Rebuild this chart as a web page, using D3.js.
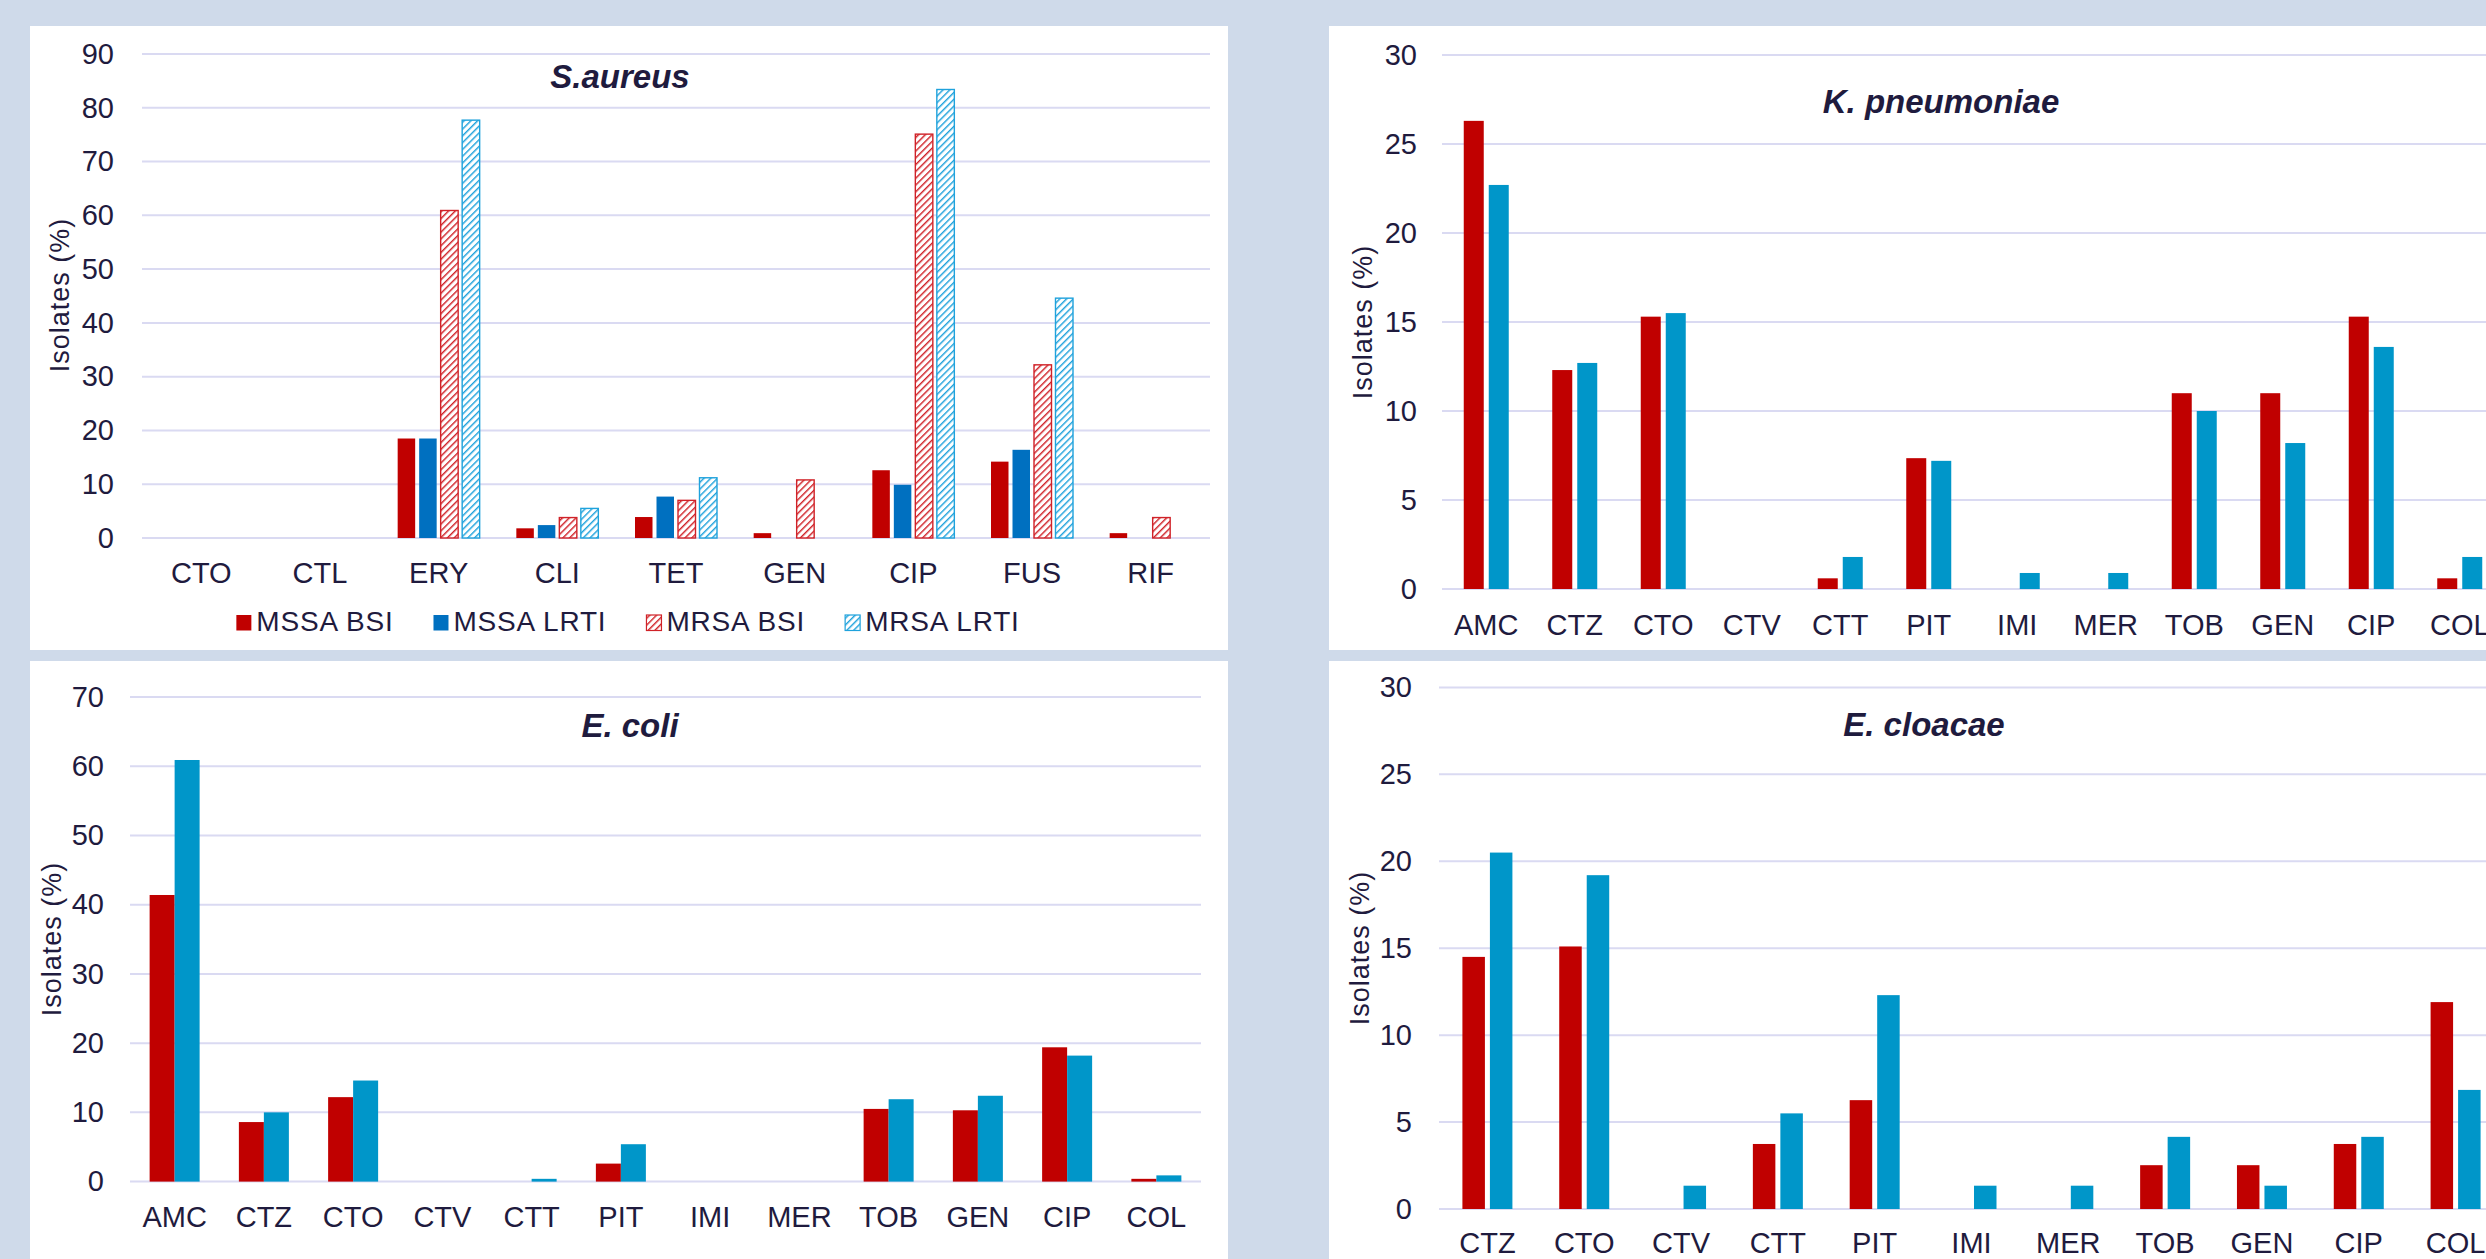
<!DOCTYPE html>
<html>
<head>
<meta charset="utf-8">
<script src="https://cdn.jsdelivr.net/npm/d3@7"></script>
<style>
  html, body { margin: 0; padding: 0; background: #CFDAEA; overflow: hidden; }
  svg { display: block; }
  text { font-family: "Liberation Sans", Arial, sans-serif; fill: #1F1B3E; }
</style>
</head>
<body>
<svg id="chart" width="2486" height="1259"></svg>
<script>
// ---------- DATA ----------
const saCategories = ["CTO", "CTL", "ERY", "CLI", "TET", "GEN", "CIP", "FUS", "RIF"];
const saSeriesNames = ["MSSA BSI", "MSSA LRTI", "MRSA BSI", "MRSA LRTI"];
const saMssaBsi  = [0, 0, 18.5, 1.8, 3.9, 0.9, 12.6, 14.2, 0.9];
const saMssaLrti = [0, 0, 18.5, 2.4, 7.7, 0, 9.9, 16.4, 0];
const saMrsaBsi  = [0, 0, 60.9, 3.8, 7.0, 10.8, 75.1, 32.2, 3.8];
const saMrsaLrti = [0, 0, 77.7, 5.5, 11.2, 0, 83.4, 44.6, 0];
const saTicks = [0, 10, 20, 30, 40, 50, 60, 70, 80, 90];

const kpCategories = ["AMC", "CTZ", "CTO", "CTV", "CTT", "PIT", "IMI", "MER", "TOB", "GEN", "CIP", "COL"];
const kpBsi  = [26.3, 12.3, 15.3, 0, 0.6, 7.35, 0, 0, 11.0, 11.0, 15.3, 0.6];
const kpLrti = [22.7, 12.7, 15.5, 0, 1.8, 7.2, 0.9, 0.9, 10.0, 8.2, 13.6, 1.8];
const kpTicks = [0, 5, 10, 15, 20, 25, 30];

const ecCategories = ["AMC", "CTZ", "CTO", "CTV", "CTT", "PIT", "IMI", "MER", "TOB", "GEN", "CIP", "COL"];
const ecBsi  = [41.4, 8.6, 12.2, 0, 0, 2.6, 0, 0, 10.5, 10.3, 19.4, 0.4];
const ecLrti = [60.9, 10.0, 14.6, 0, 0.4, 5.4, 0, 0, 11.9, 12.4, 18.2, 0.9];
const ecTicks = [0, 10, 20, 30, 40, 50, 60, 70];

const enCategories = ["CTZ", "CTO", "CTV", "CTT", "PIT", "IMI", "MER", "TOB", "GEN", "CIP", "COL"];
const enBsi  = [14.5, 15.1, 0, 3.74, 6.26, 0, 0, 2.52, 2.52, 3.74, 11.9];
const enLrti = [20.5, 19.2, 1.34, 5.5, 12.3, 1.34, 1.34, 4.15, 1.34, 4.15, 6.85];
const enTicks = [0, 5, 10, 15, 20, 25, 30];

const panelTitles = ["S.aureus", "K. pneumoniae", "E. coli", "E. cloacae"];
const axisTitle = "Isolates (%)";

// ---------- STYLES ----------
const RED = "#C00000", BLUE = "#0070C0", TEAL = "#0096C9";
const HATCH_RED = "#D02228", HATCH_BLUE = "#1FA2DC";
const GRID = "#DADAF2", TEXT = "#1F1B3E";

const svg = d3.select("#chart");
const defs = svg.append("defs");
function hatch(id, color) {
  const p = defs.append("pattern").attr("id", id).attr("patternUnits", "userSpaceOnUse")
    .attr("width", 4.8).attr("height", 4.8).attr("patternTransform", "rotate(45)");
  p.append("rect").attr("width", 4.8).attr("height", 4.8).attr("fill", "#fff");
  p.append("line").attr("x1", 0).attr("y1", 0).attr("x2", 0).attr("y2", 4.8)
    .attr("stroke", color).attr("stroke-width", 2.9);
}
hatch("hatchRed", HATCH_RED);
hatch("hatchBlue", HATCH_BLUE);

// panel backgrounds
const panelRects = [
  { x: 30, y: 26, w: 1198, h: 624 },
  { x: 1329, y: 26, w: 1300, h: 624 },
  { x: 30, y: 661, w: 1198, h: 700 },
  { x: 1329, y: 661, w: 1300, h: 700 }
];
svg.selectAll("rect.panel").data(panelRects).join("rect").attr("class", "panel")
  .attr("x", d => d.x).attr("y", d => d.y).attr("width", d => d.w).attr("height", d => d.h)
  .attr("fill", "#fff");

function drawPanel(cfg) {
  const g = svg.append("g");
  const x = d3.scaleBand().domain(cfg.categories).range([cfg.left, cfg.right]).paddingInner(0).paddingOuter(0);
  const y = d3.scaleLinear().domain([0, d3.max(cfg.ticks)]).range([cfg.bottom, cfg.top]);
  const n = cfg.series.length;
  const step = cfg.barW + cfg.gap;
  const groupW = n * step - cfg.gap;
  const inner = d3.scaleBand().domain(d3.range(n)).range([-groupW / 2, groupW / 2])
    .paddingInner(cfg.gap / step).paddingOuter(0);

  // gridlines
  g.append("g").selectAll("line").data(cfg.ticks).join("line")
    .attr("x1", cfg.left).attr("x2", cfg.right)
    .attr("y1", d => y(d)).attr("y2", d => y(d))
    .attr("stroke", GRID).attr("stroke-width", 2);

  // y axis labels
  const ya = g.append("g").attr("transform", `translate(${cfg.left},0)`)
    .call(d3.axisLeft(y).tickValues(cfg.ticks).tickSize(0).tickPadding(cfg.tickPad).tickFormat(d3.format("d")));
  ya.select(".domain").remove();
  ya.selectAll("text").style("font-size", "29px").style("fill", TEXT)
    .style("font-family", '"Liberation Sans", Arial, sans-serif');

  // x axis labels
  const xa = g.append("g").attr("transform", `translate(0,${cfg.bottom})`)
    .call(d3.axisBottom(x).tickSize(0).tickPadding(cfg.catPad));
  xa.select(".domain").remove();
  xa.selectAll("text").style("font-size", "29px").style("fill", TEXT)
    .style("font-family", '"Liberation Sans", Arial, sans-serif');

  // bars
  cfg.series.forEach((s, i) => {
    const data = cfg.categories.map((c, k) => ({ c, v: s.values[k] })).filter(d => d.v > 0);
    g.append("g").selectAll("rect").data(data).join("rect")
      .attr("x", d => x(d.c) + x.bandwidth() / 2 + inner(i))
      .attr("width", inner.bandwidth())
      .attr("y", d => y(d.v))
      .attr("height", d => y(0) - y(d.v))
      .attr("fill", s.fill)
      .attr("stroke", s.stroke || "none")
      .attr("stroke-width", s.stroke ? 1.4 : 0);
  });

  // title
  g.append("text").attr("x", cfg.titleX).attr("y", cfg.titleY).attr("text-anchor", "middle")
    .style("font-size", "33px").style("font-weight", "bold").style("font-style", "italic")
    .text(cfg.title);

  // axis title
  g.append("text").attr("transform", `translate(${cfg.axX},${cfg.axY}) rotate(-90)`)
    .attr("text-anchor", "middle").style("font-size", "27px").style("letter-spacing", "1px")
    .text(axisTitle);
  return g;
}

drawPanel({
  categories: saCategories, ticks: saTicks,
  series: [
    { values: saMssaBsi, fill: RED },
    { values: saMssaLrti, fill: BLUE },
    { values: saMrsaBsi, fill: "url(#hatchRed)", stroke: HATCH_RED },
    { values: saMrsaLrti, fill: "url(#hatchBlue)", stroke: HATCH_BLUE }
  ],
  left: 142, right: 1210, bottom: 538, top: 54, barW: 17.5, gap: 4,
  tickPad: 28, catPad: 24.5, title: panelTitles[0], titleX: 620, titleY: 88,
  axX: 69, axY: 295
});

drawPanel({
  categories: kpCategories, ticks: kpTicks,
  series: [ { values: kpBsi, fill: RED }, { values: kpLrti, fill: TEAL } ],
  left: 1442, right: 2504, bottom: 589, top: 55, barW: 20, gap: 5,
  tickPad: 25, catPad: 25.5, title: panelTitles[1], titleX: 1941, titleY: 113,
  axX: 1372, axY: 322
});

drawPanel({
  categories: ecCategories, ticks: ecTicks,
  series: [ { values: ecBsi, fill: RED }, { values: ecLrti, fill: TEAL } ],
  left: 130, right: 1201, bottom: 1181.6, top: 697, barW: 25, gap: 0,
  tickPad: 26, catPad: 25, title: panelTitles[2], titleX: 630, titleY: 737,
  axX: 61, axY: 939
});

drawPanel({
  categories: enCategories, ticks: enTicks,
  series: [ { values: enBsi, fill: RED }, { values: enLrti, fill: TEAL } ],
  left: 1439, right: 2504, bottom: 1209, top: 687.4, barW: 22.5, gap: 5,
  tickPad: 27, catPad: 23.5, title: panelTitles[3], titleX: 1924, titleY: 736,
  axX: 1369, axY: 948
});

// legend for S.aureus
const legendFills = [RED, BLUE, "url(#hatchRed)", "url(#hatchBlue)"];
const legendStrokes = [null, null, HATCH_RED, HATCH_BLUE];
const lg = svg.append("g");
const items = lg.selectAll("g").data(saSeriesNames).join("g");
items.append("rect").attr("x", 0).attr("y", -16).attr("width", 15).attr("height", 15.5)
  .attr("fill", (d, i) => legendFills[i])
  .attr("stroke", (d, i) => legendStrokes[i] || "none").attr("stroke-width", 1.2);
items.append("text").attr("x", 20).attr("y", 0).style("font-size", "28px")
  .style("letter-spacing", "0.8px").text(d => d);
let widths = [];
items.each(function () { widths.push(20 + d3.select(this).select("text").node().getComputedTextLength()); });
const spacing = 40;
const total = d3.sum(widths) + spacing * (widths.length - 1);
let cx = 628 - total / 2;
items.attr("transform", (d, i) => {
  const t = `translate(${cx},631)`;
  cx += widths[i] + spacing;
  return t;
});
</script>
</body>
</html>
